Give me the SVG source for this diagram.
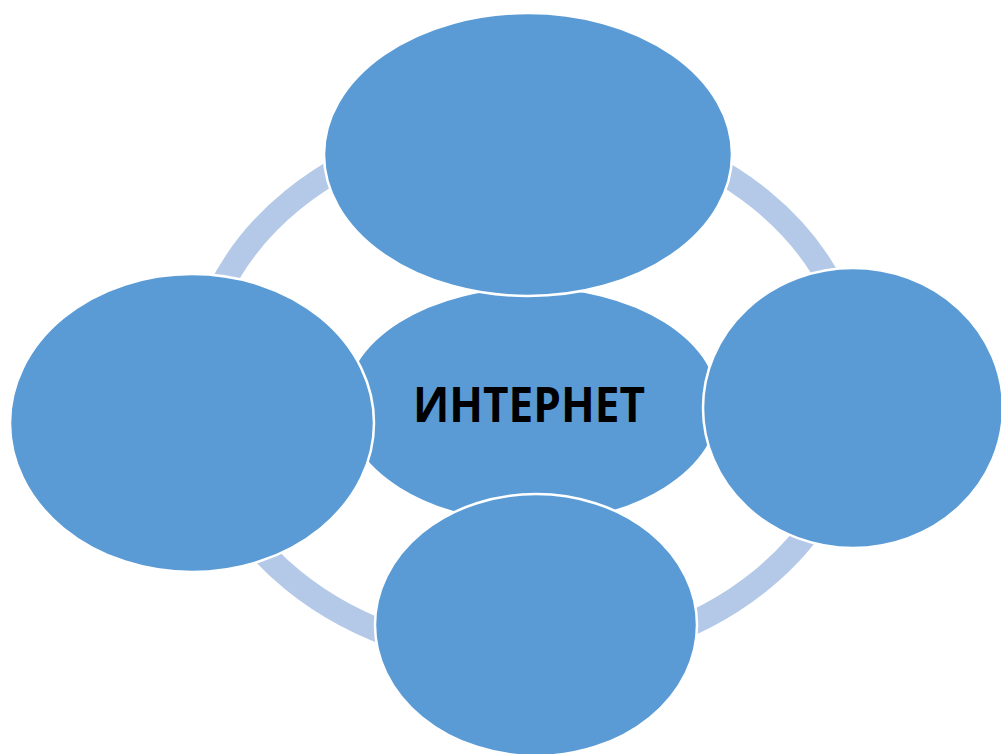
<svg xmlns="http://www.w3.org/2000/svg" width="1001" height="754" viewBox="0 0 1001 754">
<style>
.node{fill:#5B9BD5;stroke:#FFFFFF;stroke-width:2.5}
.ring{fill:none;stroke:#B4C9E7;stroke-width:24}
.label{font-family:"Open Sans","Noto Sans","Liberation Sans",sans-serif;font-weight:700;font-size:49px;fill:#000000}
</style>
<rect width="1001" height="754" fill="#FFFFFF"/>
<g id="connectors">
<ellipse class="ring" cx="527" cy="390" rx="331" ry="269"/>
</g>
<g id="node-center">
<ellipse class="node" cx="532" cy="405" rx="188" ry="118"/>
<text class="label" x="529" y="422" text-anchor="middle" textLength="232" lengthAdjust="spacingAndGlyphs">ИНТЕРНЕТ</text>
</g>
<g id="node-top">
<ellipse class="node" cx="528" cy="154.5" rx="204" ry="141.5"/>
</g>
<g id="node-right">
<ellipse class="node" cx="853" cy="408" rx="150" ry="140"/>
</g>
<g id="node-bottom">
<ellipse class="node" cx="536" cy="625" rx="161" ry="131"/>
</g>
<g id="node-left">
<ellipse class="node" cx="192" cy="423" rx="182" ry="149"/>
</g>
</svg>
